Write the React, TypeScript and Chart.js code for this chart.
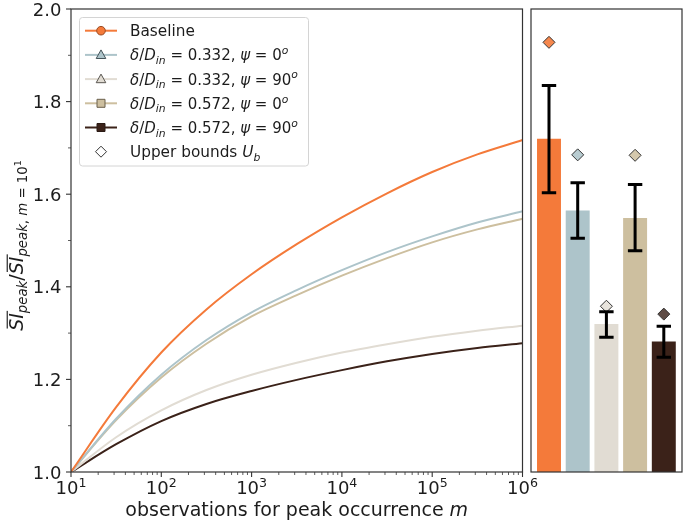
import React, { useEffect, useRef } from 'react';
import { Chart, registerables } from 'chart.js';

Chart.register(...registerables);

// ---------------- data ----------------
const LOG_M = [1, 1.5, 2, 2.5, 3, 3.5, 4, 4.5, 5, 5.5, 6];
const BASELINE = [1.0, 1.14, 1.258, 1.351, 1.427, 1.492, 1.55, 1.602, 1.648, 1.686, 1.717];
const D332_PSI0 = [1.0, 1.115, 1.21, 1.285, 1.345, 1.393, 1.436, 1.475, 1.509, 1.539, 1.563];
const D332_PSI90 = [1.0, 1.075, 1.133, 1.177, 1.21, 1.236, 1.258, 1.276, 1.292, 1.305, 1.316];
const D572_PSI0 = [1.0, 1.112, 1.204, 1.277, 1.336, 1.382, 1.424, 1.462, 1.496, 1.524, 1.547];
const D572_PSI90 = [1.0, 1.06, 1.11, 1.147, 1.175, 1.199, 1.22, 1.239, 1.255, 1.268, 1.278];

const BAR_MEAN = [1.719, 1.564, 1.319, 1.548, 1.281];
const ERR_HIGH = [1.835, 1.625, 1.346, 1.621, 1.315];
const ERR_LOW = [1.603, 1.505, 1.291, 1.478, 1.248];
const UPPER_BOUNDS = [1.928, 1.685, 1.358, 1.684, 1.341];

const X_TICK_EXPONENTS = [1, 2, 3, 4, 5, 6];
const Y_TICK_LABELS = ['1.0', '1.2', '1.4', '1.6', '1.8', '2.0'];
const Y_MINOR_TICKS = [1.1, 1.3, 1.5, 1.7, 1.9];

// ---------------- styles ----------------
const FONT = '"DejaVu Sans", "Liberation Sans", sans-serif';
const COLORS = ['#F47A3A', '#ADC4CA', '#E1DCD3', '#CDBF9F', '#3B2219'];
const DIAMOND_COLORS = ['#F5874D', '#B8CCD1', '#E8E4DD', '#D4C8AC', '#5E4C46'];
const MARKER_EDGES = ['#9a4a22', '#45545a', '#5a5752', '#6b604c', '#2a1a14'];
const AXIS_COLOR = '#333333';
const TEXT_COLOR = '#1c1c1c';

type Run = { t: string; s: number; it?: boolean; dy?: number; ol?: boolean };

function fontOf(r: Run) {
  return `${r.it ? 'italic ' : ''}${r.s}px ${FONT}`;
}

function richWidth(ctx: CanvasRenderingContext2D, runs: Run[]) {
  let w = 0;
  for (const r of runs) {
    ctx.font = fontOf(r);
    w += ctx.measureText(r.t).width;
  }
  return w;
}

function drawRich(
  ctx: CanvasRenderingContext2D,
  runs: Run[],
  x: number,
  y: number,
  align: 'left' | 'center' | 'right'
) {
  const w = richWidth(ctx, runs);
  let cx = align === 'center' ? x - w / 2 : align === 'right' ? x - w : x;
  ctx.textAlign = 'left';
  ctx.textBaseline = 'alphabetic';
  ctx.fillStyle = TEXT_COLOR;
  for (const r of runs) {
    ctx.font = fontOf(r);
    const tw = ctx.measureText(r.t).width;
    const by = y + (r.dy || 0);
    ctx.fillText(r.t, cx, by);
    if (r.ol) {
      ctx.fillRect(cx + r.s * 0.12, by - r.s * 0.86, tw, Math.max(1, r.s * 0.06));
    }
    cx += tw;
  }
}

function legendRuns(d: string, psi: string): Run[] {
  const S = 15;
  const s = 10.8;
  return [
    { t: 'δ', s: S, it: true },
    { t: '/', s: S },
    { t: 'D', s: S, it: true },
    { t: 'in', s, it: true, dy: 3.5 },
    { t: ' = ' + d + ', ', s: S },
    { t: 'ψ', s: S, it: true },
    { t: ' = ' + psi, s: S },
    { t: 'o', s, it: true, dy: -6.3 },
  ];
}

const LEGEND_ROWS: { runs: Run[]; marker: string; line: boolean; idx: number }[] = [
  { runs: [{ t: 'Baseline', s: 15.3 }], marker: 'circle', line: true, idx: 0 },
  { runs: legendRuns('0.332', '0'), marker: 'triangle', line: true, idx: 1 },
  { runs: legendRuns('0.332', '90'), marker: 'triangle', line: true, idx: 2 },
  { runs: legendRuns('0.572', '0'), marker: 'square', line: true, idx: 3 },
  { runs: legendRuns('0.572', '90'), marker: 'square', line: true, idx: 4 },
  {
    runs: [
      { t: 'Upper bounds ', s: 15.3 },
      { t: 'U', s: 15.3, it: true },
      { t: 'b', s: 10.8, it: true, dy: 3.5 },
    ],
    marker: 'diamond',
    line: false,
    idx: -1,
  },
];

function drawMarker(ctx: CanvasRenderingContext2D, kind: string, x: number, y: number, fill: string, edge: string) {
  ctx.beginPath();
  if (kind === 'circle') {
    ctx.arc(x, y, 4.3, 0, Math.PI * 2);
  } else if (kind === 'triangle') {
    ctx.moveTo(x, y - 5);
    ctx.lineTo(x + 4.8, y + 3.6);
    ctx.lineTo(x - 4.8, y + 3.6);
    ctx.closePath();
  } else if (kind === 'square') {
    ctx.rect(x - 4, y - 4, 8, 8);
  } else {
    ctx.moveTo(x, y - 5.5);
    ctx.lineTo(x + 5.5, y);
    ctx.lineTo(x, y + 5.5);
    ctx.lineTo(x - 5.5, y);
    ctx.closePath();
  }
  ctx.fillStyle = fill;
  ctx.fill();
  ctx.strokeStyle = edge;
  ctx.lineWidth = 1;
  ctx.stroke();
}

function roundRect(ctx: CanvasRenderingContext2D, x: number, y: number, w: number, h: number, r: number) {
  ctx.beginPath();
  ctx.moveTo(x + r, y);
  ctx.lineTo(x + w - r, y);
  ctx.arcTo(x + w, y, x + w, y + r, r);
  ctx.lineTo(x + w, y + h - r);
  ctx.arcTo(x + w, y + h, x + w - r, y + h, r);
  ctx.lineTo(x + r, y + h);
  ctx.arcTo(x, y + h, x, y + h - r, r);
  ctx.lineTo(x, y + r);
  ctx.arcTo(x, y, x + r, y, r);
  ctx.closePath();
}

const leftDecor = {
  id: 'leftDecor',
  afterDraw(chart: any) {
    const ctx: CanvasRenderingContext2D = chart.ctx;
    const xs = chart.scales.x;
    const ys = chart.scales.y;
    const a = chart.chartArea;
    ctx.save();

    // frame
    ctx.strokeStyle = AXIS_COLOR;
    ctx.lineWidth = 1.2;
    ctx.strokeRect(a.left, a.top, a.right - a.left, a.bottom - a.top);

    // x ticks (log)
    const maxV = Math.pow(10, X_TICK_EXPONENTS[X_TICK_EXPONENTS.length - 1]);
    for (const e of X_TICK_EXPONENTS) {
      for (let k = 1; k <= 9; k++) {
        const v = k * Math.pow(10, e);
        if (v > maxV) break;
        const px = xs.getPixelForValue(v);
        const len = k === 1 ? 5 : 3;
        ctx.lineWidth = k === 1 ? 1.1 : 0.8;
        ctx.beginPath();
        ctx.moveTo(px, a.bottom);
        ctx.lineTo(px, a.bottom + len);
        ctx.stroke();
      }
      const px = xs.getPixelForValue(Math.pow(10, e));
      drawRich(
        ctx,
        [
          { t: '10', s: 18 },
          { t: String(e), s: 12.6, dy: -7.5 },
        ],
        px,
        494,
        'center'
      );
    }

    // y ticks
    for (const lab of Y_TICK_LABELS) {
      const v = parseFloat(lab);
      const py = ys.getPixelForValue(v);
      ctx.lineWidth = 1.1;
      ctx.beginPath();
      ctx.moveTo(a.left, py);
      ctx.lineTo(a.left - 5, py);
      ctx.stroke();
      drawRich(ctx, [{ t: lab, s: 18 }], a.left - 9.5, py + 6.5, 'right');
    }
    for (const v of Y_MINOR_TICKS) {
      const py = ys.getPixelForValue(v);
      ctx.lineWidth = 0.8;
      ctx.beginPath();
      ctx.moveTo(a.left, py);
      ctx.lineTo(a.left - 3, py);
      ctx.stroke();
    }

    // x axis title
    drawRich(
      ctx,
      [
        { t: 'observations for peak occurrence ', s: 19 },
        { t: 'm', s: 19, it: true },
      ],
      (a.left + a.right) / 2,
      516,
      'center'
    );

    // y axis title (rotated)
    ctx.save();
    ctx.translate(23, (a.top + a.bottom) / 2 + 5);
    ctx.rotate(-Math.PI / 2);
    const S = 19;
    const s = 13.3;
    drawRich(
      ctx,
      [
        { t: 'SI', s: S, it: true, ol: true },
        { t: 'peak', s, it: true, dy: 3.5 },
        { t: '/', s: S },
        { t: 'SI', s: S, it: true, ol: true },
        { t: 'peak', s, it: true, dy: 3.5 },
        { t: ', ', s, dy: 3.5 },
        { t: 'm', s, it: true, dy: 3.5 },
        { t: ' = 10', s, dy: 3.5 },
        { t: '1', s: 9.5, dy: -2.5 },
      ],
      0,
      0,
      'center'
    );
    ctx.restore();

    // legend
    const lx = 79.5;
    const ly = 17.5;
    const lw = 229;
    const lh = 148.5;
    roundRect(ctx, lx, ly, lw, lh, 3);
    ctx.fillStyle = 'rgba(255,255,255,0.85)';
    ctx.fill();
    ctx.strokeStyle = '#d4d4d4';
    ctx.lineWidth = 1;
    ctx.stroke();
    LEGEND_ROWS.forEach((row, i) => {
      const ry = 30.7 + i * 24.2;
      if (row.line) {
        ctx.strokeStyle = COLORS[row.idx];
        ctx.lineWidth = 2;
        ctx.beginPath();
        ctx.moveTo(85, ry);
        ctx.lineTo(117, ry);
        ctx.stroke();
        drawMarker(ctx, row.marker, 101, ry, COLORS[row.idx], MARKER_EDGES[row.idx]);
      } else {
        drawMarker(ctx, row.marker, 101, ry, '#ffffff', '#333333');
      }
      drawRich(ctx, row.runs, 130, ry + 5.5, 'left');
    });

    ctx.restore();
  },
};

const rightDecor = {
  id: 'rightDecor',
  afterDatasetsDraw(chart: any) {
    const ctx: CanvasRenderingContext2D = chart.ctx;
    const xs = chart.scales.x;
    const ys = chart.scales.y;
    ctx.save();
    ctx.strokeStyle = '#000000';
    ctx.lineWidth = 3;
    ctx.lineCap = 'butt';
    BAR_MEAN.forEach((_, i) => {
      const px = xs.getPixelForValue(i);
      const yHi = ys.getPixelForValue(ERR_HIGH[i]);
      const yLo = ys.getPixelForValue(ERR_LOW[i]);
      ctx.beginPath();
      ctx.moveTo(px, yHi);
      ctx.lineTo(px, yLo);
      ctx.moveTo(px - 7.2, yHi);
      ctx.lineTo(px + 7.2, yHi);
      ctx.moveTo(px - 7.2, yLo);
      ctx.lineTo(px + 7.2, yLo);
      ctx.stroke();
    });
    ctx.restore();
  },
  afterDraw(chart: any) {
    const ctx: CanvasRenderingContext2D = chart.ctx;
    const a = chart.chartArea;
    ctx.save();
    ctx.strokeStyle = AXIS_COLOR;
    ctx.lineWidth = 1.2;
    ctx.strokeRect(a.left, a.top, a.right - a.left, a.bottom - a.top);
    ctx.restore();
  },
};

export default function App() {
  const leftRef = useRef<HTMLCanvasElement>(null);
  const rightRef = useRef<HTMLCanvasElement>(null);

  useEffect(() => {
    document.body.style.margin = '0';
    const series = [BASELINE, D332_PSI0, D332_PSI90, D572_PSI0, D572_PSI90];
    const labels = ['Baseline', 'd0.332 psi0', 'd0.332 psi90', 'd0.572 psi0', 'd0.572 psi90'];

    const left = new Chart(leftRef.current as HTMLCanvasElement, {
      type: 'line',
      data: {
        datasets: series.map((vals, i) => ({
          label: labels[i],
          data: vals.map((v, j) => ({ x: Math.pow(10, LOG_M[j]), y: v })),
          borderColor: COLORS[i],
          backgroundColor: COLORS[i],
          borderWidth: 2,
          pointRadius: 0,
          fill: false,
          cubicInterpolationMode: 'monotone' as const,
        })),
      },
      options: {
        animation: false,
        responsive: false,
        devicePixelRatio: 1,
        layout: { autoPadding: false, padding: { top: 9, right: 22.5, left: 0, bottom: 0 } },
        scales: {
          x: {
            type: 'logarithmic',
            min: 10,
            max: 1e6,
            ticks: { display: false },
            grid: { display: false, drawTicks: false },
            border: { display: false },
            afterFit: (s: any) => {
              s.height = 54;
            },
          },
          y: {
            type: 'linear',
            min: 1,
            max: 2,
            ticks: { display: false },
            grid: { display: false, drawTicks: false },
            border: { display: false },
            afterFit: (s: any) => {
              s.width = 71;
            },
          },
        },
        plugins: { legend: { display: false }, tooltip: { enabled: false } },
      },
      plugins: [leftDecor],
    } as any);

    const right = new Chart(rightRef.current as HTMLCanvasElement, {
      type: 'bar',
      data: {
        datasets: [
          {
            type: 'scatter',
            label: 'Upper bounds',
            data: UPPER_BOUNDS.map((v, i) => ({ x: i, y: v })),
            pointStyle: 'rectRot',
            pointRadius: 6,
            pointBackgroundColor: DIAMOND_COLORS,
            pointBorderColor: '#333333',
            pointBorderWidth: 1,
            order: 0,
          },
          {
            type: 'bar',
            label: 'm = 10^6',
            data: BAR_MEAN.map((v, i) => ({ x: i, y: v })),
            backgroundColor: COLORS,
            borderWidth: 0,
            barThickness: 23.3,
            order: 1,
          },
        ],
      },
      options: {
        animation: false,
        responsive: false,
        devicePixelRatio: 1,
        layout: { autoPadding: false, padding: { top: 9, right: 2, left: 4, bottom: 54 } },
        scales: {
          x: { type: 'linear', min: -0.627, max: 4.634, offset: false, display: false, grid: { offset: false } },
          y: { type: 'linear', min: 1, max: 2, display: false },
        },
        plugins: { legend: { display: false }, tooltip: { enabled: false } },
      },
      plugins: [rightDecor],
    } as any);

    return () => {
      left.destroy();
      right.destroy();
    };
  }, []);

  return (
    <div style={{ position: 'relative', width: 684, height: 526, background: '#ffffff', overflow: 'hidden' }}>
      <canvas
        ref={leftRef}
        width={545}
        height={526}
        style={{ position: 'absolute', left: 0, top: 0, width: 545, height: 526 }}
      />
      <canvas
        ref={rightRef}
        width={157}
        height={526}
        style={{ position: 'absolute', left: 527, top: 0, width: 157, height: 526 }}
      />
    </div>
  );
}
